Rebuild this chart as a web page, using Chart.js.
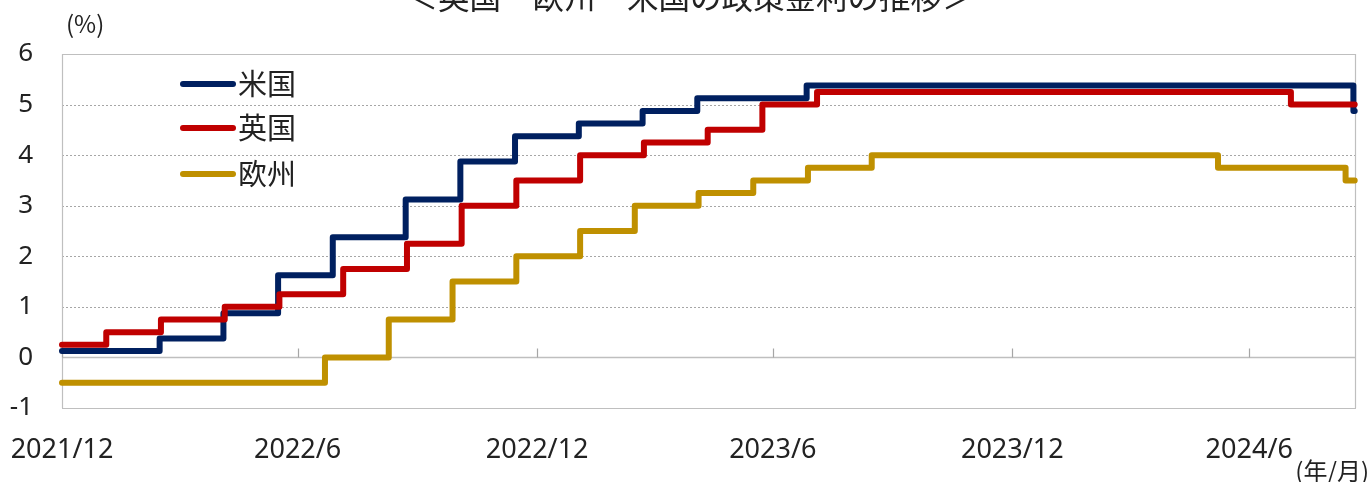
<!DOCTYPE html>
<html>
<head>
<meta charset="utf-8">
<script src="https://cdn.jsdelivr.net/npm/chart.js@4/dist/chart.umd.min.js"></script>
<style>
  html, body { margin: 0; padding: 0; background: #ffffff; }
  #wrap { position: relative; width: 1370px; height: 482px; overflow: hidden; }
  canvas { display: block; }
</style>
</head>
<body>
<div id="wrap"><canvas id="c" width="1370" height="482"></canvas></div>
<script>
// ---- data (policy-rate change dates and new levels) ----
const startDate = '2021-12-31';
const endDate = '2024-09-19';
const axisEndDate = '2024-09-20';

const usDates = ['2021-12-31','2022-03-16','2022-05-04','2022-06-15','2022-07-27','2022-09-21','2022-11-02','2022-12-14','2023-02-01','2023-03-22','2023-05-03','2023-07-26','2024-09-18'];
const usRates = [0.125, 0.375, 0.875, 1.625, 2.375, 3.125, 3.875, 4.375, 4.625, 4.875, 5.125, 5.375, 4.875];

const ukDates = ['2021-12-31','2022-02-03','2022-03-17','2022-05-05','2022-06-16','2022-08-04','2022-09-22','2022-11-03','2022-12-15','2023-02-02','2023-03-23','2023-05-11','2023-06-22','2023-08-03','2024-08-01'];
const ukRates = [0.25, 0.5, 0.75, 1.0, 1.25, 1.75, 2.25, 3.0, 3.5, 4.0, 4.25, 4.5, 5.0, 5.25, 5.0];

const euDates = ['2021-12-31','2022-07-21','2022-09-08','2022-10-27','2022-12-15','2023-02-02','2023-03-16','2023-05-04','2023-06-15','2023-07-27','2023-09-14','2024-06-06','2024-09-12'];
const euRates = [-0.5, 0.0, 0.75, 1.5, 2.0, 2.5, 3.0, 3.25, 3.5, 3.75, 4.0, 3.75, 3.5];

const seriesNames = ['米国', '英国', '欧州'];
const seriesColors = ['#002060', '#C00000', '#BF9000'];

const xTickDates = ['2021-12-31','2022-06-30','2022-12-31','2023-06-30','2023-12-31','2024-06-30'];
const xTickLabels = ['2021/12','2022/6','2022/12','2023/6','2023/12','2024/6'];
const yTicks = [-1, 0, 1, 2, 3, 4, 5, 6];

const titleText = '＜英国・欧州・米国の政策金利の推移＞';
const yUnit = '(%)';
const xUnit = '(年/月)';

// ---- helpers ----
function dayIndex(s) {
  const t0 = Date.UTC(2021, 11, 31);
  const p = s.split('-').map(Number);
  return Math.round((Date.UTC(p[0], p[1] - 1, p[2]) - t0) / 86400000);
}
function buildPoints(dates, rates) {
  const pts = dates.map((d, i) => ({ x: dayIndex(d), y: rates[i] }));
  pts.push({ x: dayIndex(endDate), y: rates[rates.length - 1] });
  return pts;
}
const tickDays = xTickDates.map(dayIndex);

const CJK = '"Noto Sans CJK JP", "Noto Sans", sans-serif';
const LAT = '"Noto Sans", "Open Sans", sans-serif';
const TXT = '#222222';

const framePlugin = {
  id: 'frame',
  beforeDatasetsDraw(chart) {
    const { ctx, chartArea: a, scales } = chart;
    const y = scales.y, x = scales.x;
    ctx.save();
    yTicks.forEach(v => {
      const py = Math.round(y.getPixelForValue(v)) + 0.5;
      ctx.beginPath();
      if (v === 0 || v === yTicks[0] || v === yTicks[yTicks.length - 1]) {
        ctx.setLineDash([]);
        ctx.strokeStyle = '#BFBFBF';
        ctx.lineWidth = v === 0 ? 1.5 : 1.2;
      } else {
        ctx.setLineDash([2, 2]);
        ctx.strokeStyle = '#A6A6A6';
        ctx.lineWidth = 1;
      }
      ctx.moveTo(a.left, py);
      ctx.lineTo(a.right, py);
      ctx.stroke();
    });
    ctx.setLineDash([]);
    ctx.strokeStyle = '#BFBFBF';
    ctx.lineWidth = 1.2;
    ctx.beginPath();
    ctx.moveTo(Math.round(a.left) + 0.5, a.top);
    ctx.lineTo(Math.round(a.left) + 0.5, a.bottom);
    ctx.moveTo(Math.round(a.right) - 0.5, a.top);
    ctx.lineTo(Math.round(a.right) - 0.5, a.bottom);
    ctx.stroke();
    // tick marks on the zero line
    const y0 = y.getPixelForValue(0);
    ctx.strokeStyle = '#A6A6A6';
    ctx.lineWidth = 1.2;
    ctx.beginPath();
    tickDays.forEach(d => {
      const px = Math.round(x.getPixelForValue(d)) + 0.5;
      ctx.moveTo(px, y0);
      ctx.lineTo(px, y0 - 9);
    });
    ctx.stroke();
    ctx.restore();
  },
  afterDraw(chart) {
    const { ctx } = chart;
    ctx.save();
    // title (partly cut off at top, as in the reference)
    ctx.fillStyle = TXT;
    ctx.font = '31.5px ' + CJK;
    ctx.textAlign = 'center';
    ctx.textBaseline = 'ideographic';
    ctx.fillText(titleText, 690, 13);
    // unit labels
    ctx.font = '24px ' + CJK;
    ctx.textAlign = 'left';
    ctx.textBaseline = 'middle';
    ctx.fillText(yUnit, 66, 24);
    ctx.textAlign = 'right';
    ctx.fillText(xUnit, 1369, 471);
    // legend
    const rows = [84, 128, 174];
    chart.data.datasets.forEach((ds, i) => {
      const yy = rows[i];
      ctx.strokeStyle = ds.borderColor;
      ctx.lineWidth = 6;
      ctx.lineCap = 'round';
      ctx.beginPath();
      ctx.moveTo(183, yy);
      ctx.lineTo(233, yy);
      ctx.stroke();
      ctx.fillStyle = TXT;
      ctx.font = '29px ' + CJK;
      ctx.textAlign = 'left';
      ctx.textBaseline = 'middle';
      ctx.fillText(ds.label, 238, yy);
    });
    ctx.restore();
  }
};

const mk = (i, dates, rates, order) => ({
  label: seriesNames[i],
  data: buildPoints(dates, rates),
  borderColor: seriesColors[i],
  backgroundColor: seriesColors[i],
  borderWidth: 6,
  stepped: 'before',
  pointRadius: 0,
  borderCapStyle: 'round',
  borderJoinStyle: 'round',
  fill: false,
  clip: 6,
  order: order
});

new Chart(document.getElementById('c'), {
  type: 'line',
  data: {
    datasets: [
      mk(0, usDates, usRates, 3),
      mk(1, ukDates, ukRates, 2),
      mk(2, euDates, euRates, 1)
    ]
  },
  options: {
    responsive: false,
    devicePixelRatio: 1,
    animation: false,
    layout: { padding: { top: 54, right: 14, left: 0, bottom: 0 } },
    plugins: { legend: { display: false }, tooltip: { enabled: false }, title: { display: false } },
    scales: {
      x: {
        type: 'linear',
        min: 0,
        max: dayIndex(axisEndDate),
        afterBuildTicks: s => { s.ticks = tickDays.map(v => ({ value: v })); },
        afterFit: s => { s.height = 74; s.paddingLeft = 0; s.paddingRight = 0; },
        grid: { display: false, drawTicks: false },
        border: { display: false },
        ticks: {
          autoSkip: false,
          maxRotation: 0,
          padding: 26,
          color: TXT,
          font: { family: LAT, size: 27 },
          callback: (v) => { const k = tickDays.indexOf(v); return k >= 0 ? xTickLabels[k] : ''; }
        }
      },
      y: {
        min: yTicks[0],
        max: yTicks[yTicks.length - 1],
        afterBuildTicks: s => { s.ticks = yTicks.map(v => ({ value: v })); },
        afterFit: s => { s.width = 62; s.paddingTop = 0; s.paddingBottom = 0; },
        grid: { display: false, drawTicks: false },
        border: { display: false },
        ticks: {
          padding: 29,
          color: TXT,
          font: { family: LAT, size: 26 }
        }
      }
    }
  },
  plugins: [framePlugin]
});
</script>
</body>
</html>
